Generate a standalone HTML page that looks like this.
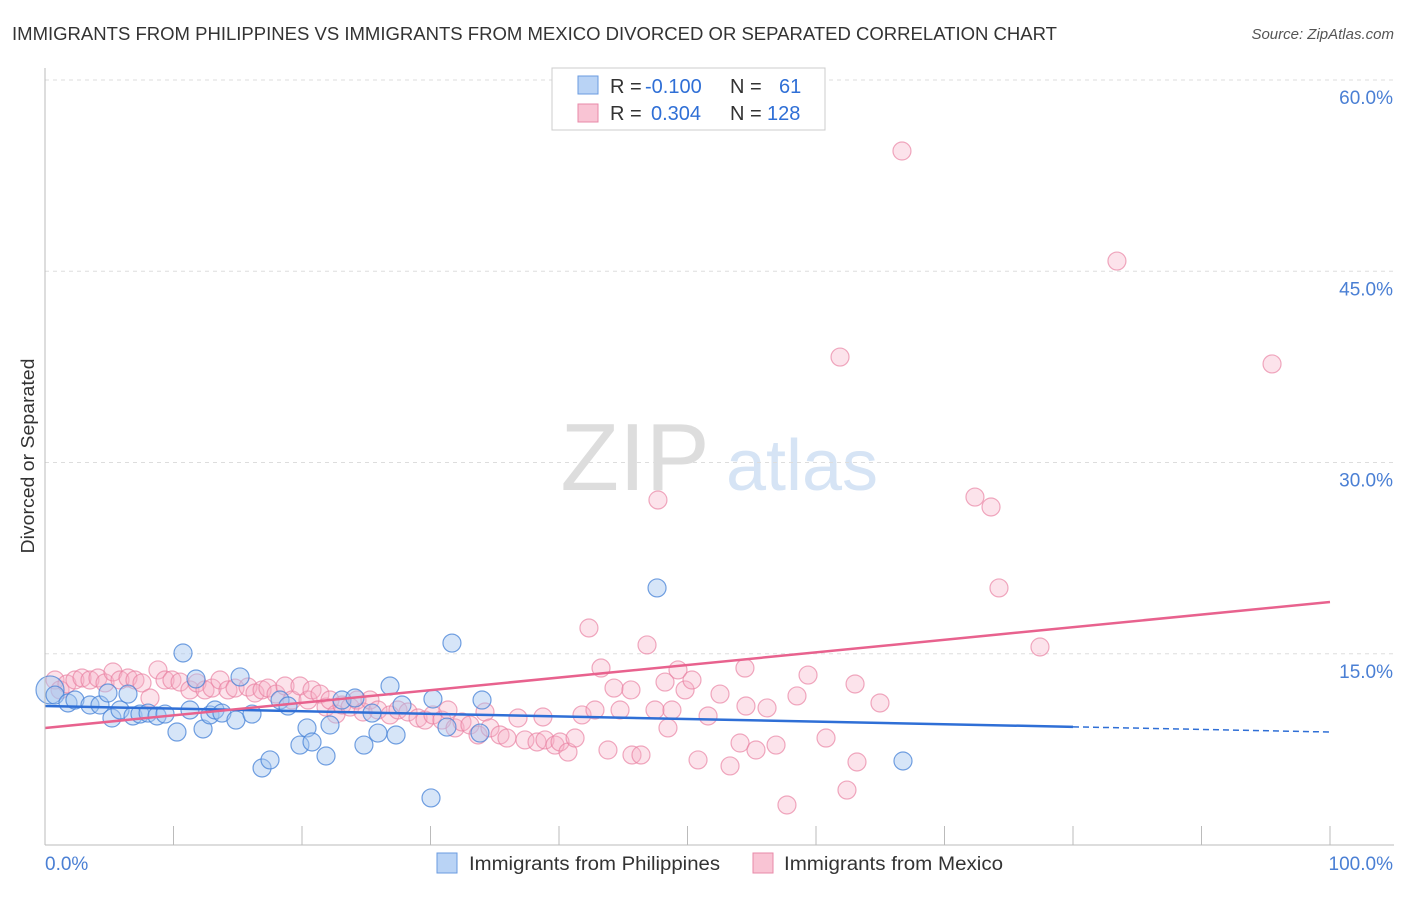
<!DOCTYPE html>
<html><head><meta charset="utf-8"><style>
body{margin:0;background:#fff;font-family:"Liberation Sans",sans-serif;}
svg text{font-family:"Liberation Sans",sans-serif;}
</style></head><body>
<svg id="c" width="1406" height="892" xmlns="http://www.w3.org/2000/svg">
<text x="12" y="40" font-size="18" fill="#333" textLength="1045" lengthAdjust="spacingAndGlyphs">IMMIGRANTS FROM PHILIPPINES VS IMMIGRANTS FROM MEXICO DIVORCED OR SEPARATED CORRELATION CHART</text>
<text x="1394" y="39" font-size="15" fill="#555" font-style="italic" text-anchor="end">Source: ZipAtlas.com</text>
<text x="34" y="456" font-size="18" fill="#333" text-anchor="middle" transform="rotate(-90 34 456)" textLength="195" lengthAdjust="spacingAndGlyphs">Divorced or Separated</text>
<g><text x="635" y="490" font-size="96" fill="#ddd" font-family="Liberation Serif" text-anchor="middle">ZIP</text><text x="802" y="490" font-size="72" fill="#d6e4f5" text-anchor="middle">atlas</text></g>
<g id="grid"></g><g id="marks"></g>
<line x1="45" y1="68" x2="45" y2="845" stroke="#bbb"/>
<line x1="45" y1="845" x2="1394" y2="845" stroke="#bbb"/>
<text x="45" y="870" font-size="19" fill="#4a7fd4">0.0%</text>
<text x="1393" y="870" font-size="19" fill="#4a7fd4" text-anchor="end">100.0%</text>
<g>
<rect x="552" y="68" width="273" height="62" fill="#fff" stroke="#ccc"/>
<rect x="578" y="76" width="20" height="18" fill="#b9d3f5" stroke="#6a9be0"/>
<text x="610" y="93" font-size="20" fill="#333">R = <tspan fill="#2f6fd6" x="645">-0.100</tspan></text>
<text x="730" y="93" font-size="20" fill="#333">N = <tspan fill="#2f6fd6" x="779">61</tspan></text>
<rect x="578" y="104" width="20" height="18" fill="#f9c4d4" stroke="#e88aa8"/>
<text x="610" y="120" font-size="20" fill="#333">R = <tspan fill="#2f6fd6" x="651">0.304</tspan></text>
<text x="730" y="120" font-size="20" fill="#333">N = <tspan fill="#2f6fd6" x="767">128</tspan></text>
</g>
<g>
<rect x="437" y="853" width="20" height="20" fill="#b9d3f5" stroke="#6a9be0"/>
<text x="469" y="870" font-size="19" fill="#333" textLength="251" lengthAdjust="spacingAndGlyphs">Immigrants from Philippines</text>
<rect x="753" y="853" width="20" height="20" fill="#f9c4d4" stroke="#e88aa8"/>
<text x="784" y="870" font-size="19" fill="#333" textLength="219" lengthAdjust="spacingAndGlyphs">Immigrants from Mexico</text>
</g>
</svg>
<script>
const yTicks=[15,30,45,60];
const xTicks=[0,10,20,30,40,50,60,70,80,90,100];
const bluePx=[[50,690],[55,695],[68,703],[75,700],[90,705],[100,705],[108,693],[112,718],[120,710],[128,694],[133,716],[140,714],[148,713],[157,716],[165,714],[177,732],[183,653],[190,710],[196,679],[203,729],[210,715],[215,710],[222,713],[236,720],[240,677],[252,714],[262,768],[270,760],[280,700],[288,706],[300,745],[307,728],[312,742],[326,756],[330,725],[342,700],[355,698],[364,745],[372,713],[378,733],[390,686],[396,735],[402,705],[431,798],[433,699],[447,727],[452,643],[482,700],[480,733],[657,588],[903,761]];
const pinkPx=[[55,680],[60,690],[67,684],[75,680],[82,678],[90,680],[98,678],[105,683],[113,672],[120,680],[128,678],[135,680],[142,683],[150,698],[158,670],[165,680],[172,680],[180,682],[190,690],[197,683],[205,690],[212,688],[220,680],[228,690],[235,688],[248,687],[255,693],[262,690],[268,688],[276,694],[285,686],[292,700],[300,686],[308,700],[312,690],[320,694],[326,707],[330,700],[336,714],[342,705],[350,707],[357,700],[363,712],[370,700],[378,710],[390,715],[398,710],[408,712],[418,718],[425,720],[433,715],[442,720],[448,710],[455,728],[462,722],[470,725],[478,735],[485,712],[490,728],[500,735],[507,738],[518,718],[525,740],[537,742],[543,717],[545,740],[555,745],[560,742],[568,752],[575,738],[582,715],[589,628],[595,710],[601,668],[608,750],[614,688],[620,710],[631,690],[632,755],[641,755],[647,645],[655,710],[658,500],[665,682],[668,728],[672,710],[678,670],[685,690],[692,680],[698,760],[708,716],[720,694],[730,766],[740,743],[745,668],[746,706],[756,750],[767,708],[776,745],[787,805],[797,696],[808,675],[826,738],[840,357],[855,684],[857,762],[847,790],[880,703],[902,151],[975,497],[991,507],[999,588],[1040,647],[1117,261],[1272,364]];
const blueX=bluePx.map(p=>+((p[0]-45)/12.85).toFixed(2)), blueY=bluePx.map(p=>+((845-p[1])/12.75).toFixed(2));
const pinkX=pinkPx.map(p=>+((p[0]-45)/12.85).toFixed(2)), pinkY=pinkPx.map(p=>+((845-p[1])/12.75).toFixed(2));
const blueTrend=[10.9,8.86], pinkTrend=[9.18,19.06];
const X=v=>45+v*12.85, Y=v=>845-v*12.75;
const NS="http://www.w3.org/2000/svg";
function mk(t,a,p){const e=document.createElementNS(NS,t);for(const k in a)e.setAttribute(k,a[k]);p.appendChild(e);return e;}
const g=document.getElementById('grid'), m=document.getElementById('marks');
yTicks.forEach(t=>{
 const l=mk('line',{x1:45,x2:1394,y1:Y(t),y2:Y(t),stroke:'#ddd','stroke-dasharray':'4,4'},g);
 
 
 const tx=mk('text',{x:1393,y:Y(t)+24,'font-size':19,fill:'#4a7fd4','text-anchor':'end'},g);
 tx.textContent=t.toFixed(1)+'%';
 
 
});
xTicks.forEach(t=>{
 const l=mk('line',{x1:X(t),x2:X(t),y1:826,y2:845,stroke:'#bbb'},g);
 
 
});
pinkX.forEach((x,i)=>{
 const c=mk('circle',{cx:X(x),cy:Y(pinkY[i]),r:9,fill:'rgba(246,175,198,0.35)',stroke:'rgba(232,125,158,0.65)','stroke-width':1.2},m);
 
 
});
blueX.forEach((x,i)=>{
 const c=mk('circle',{cx:X(x),cy:Y(blueY[i]),r:i==0?14:9,fill:'rgba(165,198,240,0.45)',stroke:'rgba(70,130,215,0.75)','stroke-width':1.2},m);
 
 
});
const bAt=v=>blueTrend[0]+(blueTrend[1]-blueTrend[0])*v/100;
let l=mk('line',{x1:X(0),y1:Y(bAt(0)),x2:X(80),y2:Y(bAt(80)),stroke:'#2f6fd6','stroke-width':2.5},m);


l=mk('line',{x1:X(80),y1:Y(bAt(80)),x2:X(100),y2:Y(bAt(100)),stroke:'#2f6fd6','stroke-width':1.5,'stroke-dasharray':'6,4'},m);


l=mk('line',{x1:X(0),y1:Y(pinkTrend[0]),x2:X(100),y2:Y(pinkTrend[1]),stroke:'#e8628e','stroke-width':2.5},m);


</script>
</body></html>
